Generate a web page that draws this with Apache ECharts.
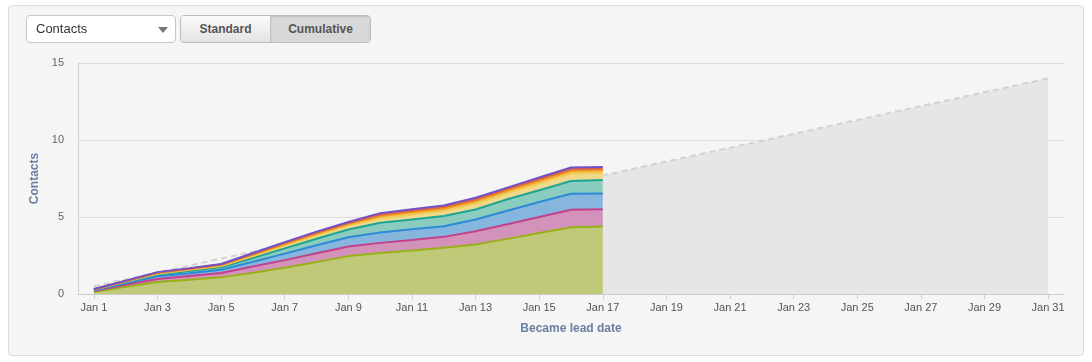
<!DOCTYPE html>
<html>
<head>
<meta charset="utf-8">
<script src="https://cdn.jsdelivr.net/npm/echarts@6/dist/echarts.min.js"></script>
<style>
  html, body { margin: 0; padding: 0; background: #fff; font-family: "Liberation Sans", Arial, sans-serif; }
  #card { position: absolute; left: 8px; top: 5px; width: 1074px; height: 349px; background: #f5f5f5; border: 1px solid #dcdcdc; border-radius: 4px; }
  #chart { position: absolute; left: 0; top: 0; width: 1092px; height: 362px; }
  .select { position: absolute; left: 26px; top: 15px; width: 148px; height: 26px; background: #fff; border: 1px solid #c8c8c8; border-radius: 4px; font-size: 13px; color: #333; line-height: 26px; box-sizing: content-box; }
  .select span { position: absolute; left: 9px; }
  .select .arrow { position: absolute; left: 131px; top: 11px; width: 0; height: 0; border-left: 5px solid transparent; border-right: 5px solid transparent; border-top: 6px solid #777; }
  .btns { position: absolute; left: 180px; top: 15px; height: 26px; display: flex; border: 1px solid #bdbdbd; border-radius: 4px; overflow: hidden; }
  .btns div { height: 26px; line-height: 26px; font-size: 12px; font-weight: bold; color: #555; text-align: center; }
  .std { width: 89px; background: linear-gradient(#fafafa, #e4e4e4); border-right: 1px solid #c4c4c4; }
  .cum { width: 99px; background: #d8d8d8; box-shadow: inset 0 1px 2px rgba(0,0,0,0.12); }
</style>
</head>
<body>
<div id="card"></div>
<div id="chart"></div>
<div class="select"><span>Contacts</span><div class="arrow"></div></div>
<div class="btns"><div class="std">Standard</div><div class="cum">Cumulative</div></div>
<script>
const dates = [
  "Jan 1", "Jan 2", "Jan 3", "Jan 4", "Jan 5", "Jan 6", "Jan 7", "Jan 8", "Jan 9", "Jan 10",
  "Jan 11", "Jan 12", "Jan 13", "Jan 14", "Jan 15", "Jan 16", "Jan 17", "Jan 18", "Jan 19", "Jan 20",
  "Jan 21", "Jan 22", "Jan 23", "Jan 24", "Jan 25", "Jan 26", "Jan 27", "Jan 28", "Jan 29", "Jan 30", "Jan 31",
];

// stacked increments for Jan 1 .. Jan 17, bottom to top
const greenVals   = [0.15, 0.47, 0.78, 0.93, 1.08, 1.38, 1.70, 2.08, 2.46, 2.67, 2.83, 3.00, 3.22, 3.58, 3.96, 4.34, 4.38];
const magentaVals = [0.05, 0.13, 0.20, 0.24, 0.28, 0.40, 0.50, 0.57, 0.63, 0.65, 0.67, 0.71, 0.86, 0.95, 1.04, 1.13, 1.13];
const blueVals    = [0.04, 0.10, 0.17, 0.18, 0.21, 0.31, 0.42, 0.52, 0.60, 0.68, 0.70, 0.69, 0.76, 0.88, 0.97, 1.04, 1.02];
const tealVals    = [0.03, 0.07, 0.11, 0.15, 0.17, 0.25, 0.34, 0.42, 0.50, 0.62, 0.64, 0.66, 0.65, 0.74, 0.77, 0.83, 0.87];
const yellowVals  = [0.02, 0.04, 0.06, 0.07, 0.08, 0.13, 0.19, 0.22, 0.25, 0.30, 0.32, 0.34, 0.38, 0.40, 0.44, 0.48, 0.46];
const orangeVals  = [0.01, 0.02, 0.04, 0.04, 0.05, 0.07, 0.09, 0.10, 0.10, 0.13, 0.14, 0.14, 0.15, 0.15, 0.16, 0.17, 0.17];
const redVals     = [0.01, 0.02, 0.03, 0.035, 0.04, 0.06, 0.07, 0.07, 0.07, 0.10, 0.10, 0.11, 0.12, 0.11, 0.11, 0.11, 0.11];
const purpleVals  = [0.01, 0.02, 0.03, 0.035, 0.04, 0.06, 0.06, 0.07, 0.07, 0.10, 0.10, 0.10, 0.11, 0.10, 0.11, 0.11, 0.11];

// projection: dashed line over the whole month, shaded after the last day
const forecastDates = ["Jan 1", "Jan 31"];
const forecastVals = [0.5, 14.0];
const forecastFillDates = ["Jan 17", "Jan 31"];
const forecastFillVals = [7.7, 14.0];

const layers = [
  { name: "Green", vals: greenVals, line: "#98b01a", fill: "#bfc977" },
  { name: "Magenta", vals: magentaVals, line: "#c2418c", fill: "#d292b9" },
  { name: "Blue", vals: blueVals, line: "#2c8ad6", fill: "#86b6de" },
  { name: "Teal", vals: tealVals, line: "#1fa495", fill: "#8accbe" },
  { name: "Yellow", vals: yellowVals, line: "#f1cb55", fill: "#f1d98c" },
  { name: "Orange", vals: orangeVals, line: "#f0a020", fill: "#f4bf63" },
  { name: "Red", vals: redVals, line: "#e0653a", fill: "#ec9a78" },
  { name: "Purple", vals: purpleVals, line: "#7350c6", fill: "#a08ad8" },
];

const pair = (xs, ys) => xs.map((x, i) => [x, ys[i]]);

const chart = echarts.init(document.getElementById("chart"), null, { renderer: "canvas" });

const series = [
  {
    name: "Projection area",
    type: "line",
    data: pair(forecastFillDates, forecastFillVals),
    showSymbol: false,
    lineStyle: { width: 0 },
    areaStyle: { color: "#e6e6e6", opacity: 1 },
    z: 1,
    silent: true,
  },
  {
    name: "Projection",
    type: "line",
    data: pair(forecastDates, forecastVals),
    showSymbol: false,
    lineStyle: { color: "#d2d2d2", width: 2, type: [6, 4] },
    z: 1,
    silent: true,
  },
  ...layers.map((l) => ({
    name: l.name,
    type: "line",
    stack: "total",
    data: l.vals,
    showSymbol: false,
    lineStyle: { color: l.line, width: 2 },
    itemStyle: { color: l.line },
    areaStyle: { color: l.fill, opacity: 1 },
    z: 2,
  })),
];

chart.setOption({
  backgroundColor: "transparent",
  animation: false,
  textStyle: { fontFamily: "Liberation Sans, Arial, sans-serif" },
  grid: { left: 78, right: 28, top: 63, bottom: 68 },
  xAxis: {
    type: "category",
    data: dates,
    boundaryGap: true,
    name: "Became lead date",
    nameLocation: "middle",
    nameGap: 29,
    nameTextStyle: { color: "#6a7fa0", fontSize: 12, fontWeight: "bold" },
    axisLine: { lineStyle: { color: "#cccccc" } },
    axisTick: { show: true, alignWithLabel: true, interval: 1, length: 5, lineStyle: { color: "#c0d0e0" } },
    axisLabel: { interval: 1, color: "#555", fontSize: 11, margin: 8 },
    splitLine: { show: false },
  },
  yAxis: {
    type: "value",
    min: 0,
    max: 15,
    interval: 5,
    name: "Contacts",
    nameLocation: "middle",
    nameGap: 29,
    nameTextStyle: { color: "#6a7fa0", fontSize: 12, fontWeight: "bold" },
    axisLine: { show: true, lineStyle: { color: "#d0d0d0" } },
    axisTick: { show: false },
    axisLabel: { color: "#666", fontSize: 11, margin: 14 },
    splitLine: { lineStyle: { color: "#dddddd" } },
  },
  series,
});
</script>
</body>
</html>
